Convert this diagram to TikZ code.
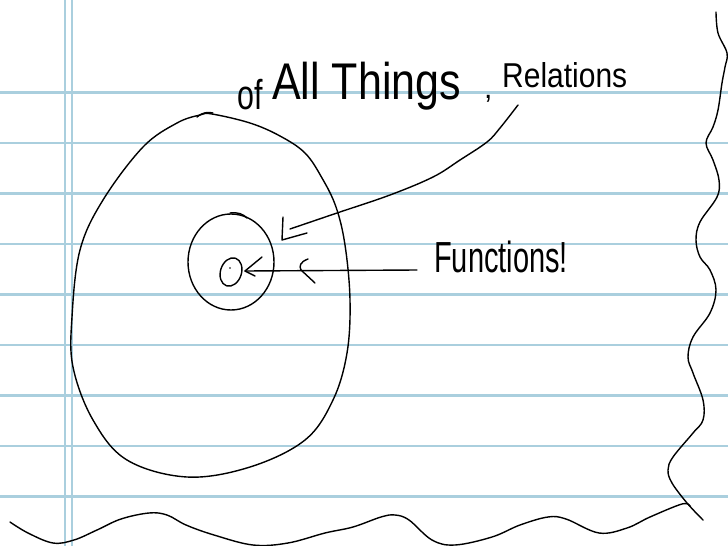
\documentclass[tikz,border=0pt]{standalone}
\usepackage{fontspec}
\setmainfont{Liberation Sans}
\definecolor{ruleblue}{RGB}{170,207,222}
\begin{document}
\begin{tikzpicture}[x=1pt,y=-1pt,
  ink/.style={line width=1.4pt, line cap=round, line join=round, black},
  hrule/.style={line width=2.6pt, ruleblue},
  vrule/.style={line width=2pt, ruleblue},
  hand/.style={anchor=base west, inner sep=0pt, black}]
\fill[white] (0,0) rectangle (728,546);
\useasboundingbox (0,0) rectangle (728,546);
% notebook rules
\foreach \yy in {92.5,143,193.5,244,294.5,345,395.5,446,496.5}
  \draw[hrule] (0,\yy) -- (728,\yy);
\draw[vrule] (65,0) -- (65,546);
\draw[vrule] (72,0) -- (72,546);

% big egg
\draw[ink] plot[smooth cycle, tension=0.6] coordinates {
 (212,114) (250,123) (280,136) (305,153) (322,178) (336,207) (345,245)
 (350,300) (347,353) (333,400) (305,440) (250,467) (187,477) (127,460)
 (93,420) (73,367) (72,317) (80,250) (103,200) (143,147) (177,123) (200,115)};
\draw[ink] (197,117) .. controls (203,112) and (208,112) .. (213,113);

% inner circle
\draw[ink] (231,262) ellipse [x radius=43, y radius=48];
\draw[ink] (230,213) .. controls (238,212) and (243,214) .. (247,218);

% small o
\draw[ink, rotate around={-18:(231,272)}] (231,272) ellipse [x radius=10.5, y radius=14.5];
\fill (230,268) circle (0.9);

% texts
\node[hand] (of) at (237,109) {\scalebox{0.8}[1.1]{\fontsize{38}{40}\selectfont of}};
\node[hand] (things) at (272,99) {\scalebox{1}[1.2]{\fontsize{43}{48}\selectfont All Things}};
\node[hand] (comma) at (484,98) {\fontsize{30}{32}\selectfont ,};
\node[hand] (rel) at (502,87) {\scalebox{1}[1.15]{\fontsize{30}{32}\selectfont Relations}};
\node[hand] (fun) at (434,272) {\scalebox{1}[1.5]{\fontsize{29}{32}\selectfont Functions!}};

% Relations arrow
\coordinate (relstart) at (518,105);
\coordinate (reltip) at (282,240);
\draw[ink] plot[smooth, tension=0.6] coordinates {
 (relstart) (500,128) (487,142) (460,160) (433,177) (390,195) (337,213) (290,229)};
\draw[ink] (283,217) -- (reltip) -- (307,233);

% Functions arrow
\coordinate (funstart) at (417,270);
\coordinate (funtip) at (245,271);
\draw[ink] (funstart) -- (funtip);
\draw[ink] (262,257) -- (funtip) -- (255,276);
\draw[ink] (308,259) .. controls (300,262) and (299,266) .. (301,270) -- (315,283);

% torn right edge
\draw[ink] plot[smooth, tension=0.6] coordinates {
 (716,12) (718,33) (727,53) (725,67) (722,83) (718,110) (713,127) (706,143)
 (713,160) (719,180) (717,197) (700,222) (696,240) (700,257) (710,270)
 (716,290) (710,313) (693,337) (688,357) (693,373) (703,400) (703,420)
 (693,433) (673,457) (668,470) (672,483) (687,503) (703,520)};

% torn bottom edge
\draw[ink] plot[smooth, tension=0.6] coordinates {
 (10,522) (28,533) (53,543) (74,540) (97,530) (121,519) (149,513) (167,515)
 (186,525) (214,535) (253,545) (288,543) (325,533) (353,527) (381,517)
 (395,515) (409,520) (432,540) (455,545) (492,537) (520,525) (548,517)
 (566,519) (599,533) (627,528) (650,517) (682,504) (690,506)};
\end{tikzpicture}
\end{document}
